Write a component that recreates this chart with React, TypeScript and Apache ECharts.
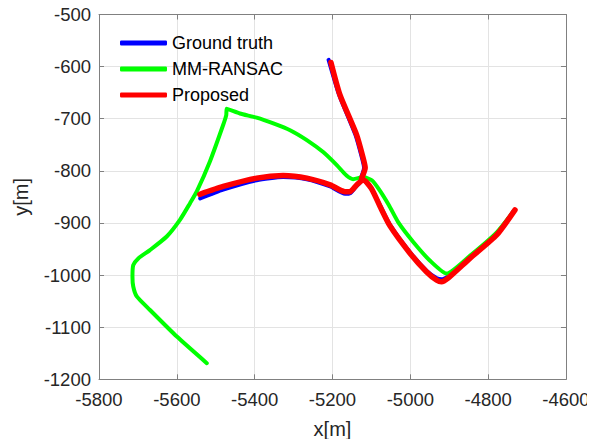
import React, { useEffect, useRef } from "react";
import * as echarts from "echarts";

const xTicks = [-5800, -5600, -5400, -5200, -5000, -4800, -4600];
const yTicks = [-500, -600, -700, -800, -900, -1000, -1100, -1200];

const seriesNames = ["Ground truth", "MM-RANSAC", "Proposed"];
const seriesColors = ["#0000ff", "#00ff00", "#ff0000"];

// '-' breaks a line into separate pieces
const groundTruth: (number[] | string)[] = [
  [-5540, -853], [-5481, -836], [-5395, -818], [-5327, -812], [-5266, -816], [-5206, -830],
  [-5168, -844], [-5155, -843], [-5138, -829], [-5121, -818], [-5101, -833], [-5078, -866],
  [-5052, -904], [-5001, -956], [-4958, -992], [-4932, -1006], [-4920, -1008], [-4903, -1003],
  [-4847, -966], [-4778, -921], [-4734, -877],
  "-",
  [-5210, -587], [-5183, -654], [-5141, -731], [-5124, -776], [-5119, -794], [-5127, -814],
];

const mmRansac: number[][] = [
  [-5523, -1169], [-5600, -1118], [-5669, -1067], [-5703, -1041], [-5712, -1022], [-5714, -1003],
  [-5712, -981], [-5699, -968], [-5669, -952], [-5626, -926], [-5592, -894], [-5566, -862],
  [-5549, -840], [-5515, -782], [-5481, -712], [-5473, -693], [-5472, -681], [-5438, -690],
  [-5395, -698], [-5352, -709], [-5309, -722], [-5266, -741], [-5224, -764], [-5189, -789],
  [-5164, -809], [-5147, -816], [-5121, -812], [-5099, -818], [-5080, -836], [-5055, -866],
  [-5030, -900], [-4992, -937], [-4950, -972], [-4907, -997], [-4847, -963], [-4778, -918],
  [-4734, -877],
];

const proposed: (number[] | string)[] = [
  [-5541, -845], [-5481, -830], [-5395, -814], [-5327, -809], [-5266, -814], [-5206, -827],
  [-5168, -840], [-5155, -840], [-5138, -827], [-5121, -817], [-5100, -834], [-5078, -868],
  [-5052, -906], [-5001, -958], [-4958, -994], [-4932, -1010], [-4920, -1013], [-4903, -1006],
  [-4847, -968], [-4778, -923], [-4731, -875],
  "-",
  [-5204, -592], [-5181, -654], [-5138, -731], [-5121, -776], [-5116, -794], [-5125, -814],
];

const seriesData = [groundTruth, mmRansac, proposed];
const seriesWidths = [4, 4, 5.5];

export default function App() {
  const ref = useRef<HTMLDivElement>(null);
  useEffect(() => {
    if (!ref.current) return;
    const chart = echarts.init(ref.current, null, { renderer: "svg" });
    const font = "'Liberation Sans', Arial, sans-serif";
    const axisColor = "#808080";
    const fmt = (v: number) => String(v);
    const baseX = {
      type: "value",
      min: xTicks[0],
      max: xTicks[xTicks.length - 1],
      interval: 200,
      axisLine: { show: true, onZero: false, lineStyle: { color: axisColor, width: 1 } },
      axisTick: { show: true, inside: true, length: 5, lineStyle: { color: axisColor } },
      splitLine: { show: true, lineStyle: { color: "#e3e3e3", width: 1 } },
    };
    const baseY = {
      type: "value",
      min: yTicks[yTicks.length - 1],
      max: yTicks[0],
      interval: 100,
      axisLine: { show: true, onZero: false, lineStyle: { color: axisColor, width: 1 } },
      axisTick: { show: true, inside: true, length: 5, lineStyle: { color: axisColor } },
      splitLine: { show: true, lineStyle: { color: "#e3e3e3", width: 1 } },
    };
    chart.setOption({
      animation: false,
      backgroundColor: "#ffffff",
      grid: { left: 99, right: 29, top: 14.5, bottom: 67.7, containLabel: false },
      legend: {
        left: 115,
        top: 29,
        orient: "vertical",
        itemWidth: 47,
        itemHeight: 5,
        itemGap: 8,
        data: seriesNames.map((n) => ({ name: n, icon: "roundRect" })),
        textStyle: { fontFamily: font, fontSize: 18, color: "#000000" },
      },
      xAxis: [
        {
          ...baseX,
          position: "bottom",
          name: "x[m]",
          nameLocation: "middle",
          nameGap: 40,
          nameTextStyle: { fontFamily: font, fontSize: 20, color: "#262626" },
          axisLabel: { fontFamily: font, fontSize: 18.5, color: "#262626", margin: 11, formatter: fmt },
        },
        {
          ...baseX,
          position: "top",
          splitLine: { show: false },
          axisLabel: { show: false },
        },
      ],
      yAxis: [
        {
          ...baseY,
          position: "left",
          name: "y[m]",
          nameLocation: "middle",
          nameGap: 68,
          nameTextStyle: { fontFamily: font, fontSize: 20, color: "#262626" },
          axisLabel: { fontFamily: font, fontSize: 18.5, color: "#262626", margin: 8, formatter: fmt },
        },
        {
          ...baseY,
          position: "right",
          splitLine: { show: false },
          axisLabel: { show: false },
        },
      ],
      series: seriesNames.map((n, i) => ({
        name: n,
        type: "line",
        data: seriesData[i],
        showSymbol: false,
        symbol: "none",
        smooth: 0.2,
        connectNulls: false,
        color: seriesColors[i],
        itemStyle: { color: seriesColors[i] },
        lineStyle: { color: seriesColors[i], width: seriesWidths[i], cap: "round", join: "round" },
        z: 2 + i,
      })),
    });
    return () => chart.dispose();
  }, []);
  return <div ref={ref} style={{ width: 595, height: 447, margin: -8 }} />;
}
